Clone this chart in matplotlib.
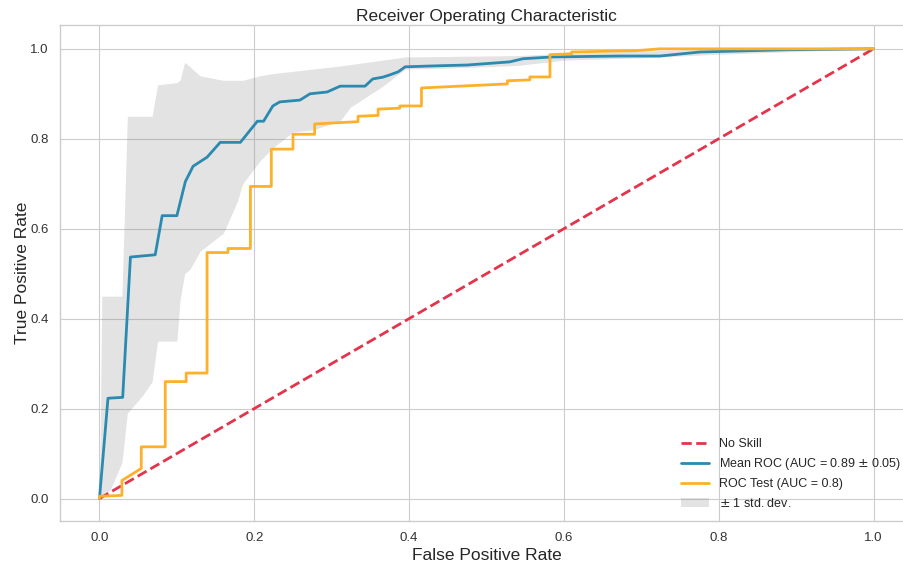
import matplotlib
matplotlib.use("Agg")
import matplotlib.pyplot as plt

# mean ROC across folds
mean_fpr = [0.000, 0.011, 0.030, 0.040, 0.072, 0.081, 0.100, 0.111, 0.121, 0.139,
            0.156, 0.182, 0.204, 0.212, 0.224, 0.233, 0.259, 0.272, 0.294, 0.311,
            0.343, 0.353, 0.366, 0.375, 0.386, 0.395, 0.431, 0.475, 0.530, 0.547,
            0.586, 0.672, 0.724, 0.776, 0.888, 1.000]
mean_tpr = [0.000, 0.223, 0.225, 0.537, 0.542, 0.629, 0.629, 0.705, 0.739, 0.759,
            0.792, 0.792, 0.839, 0.839, 0.873, 0.882, 0.886, 0.900, 0.904, 0.917,
            0.917, 0.933, 0.937, 0.942, 0.949, 0.960, 0.962, 0.964, 0.971, 0.978,
            0.982, 0.984, 0.984, 0.993, 0.998, 1.000]

# ROC on the held-out test set
test_fpr = [0.000, 0.000, 0.029, 0.029, 0.054, 0.054, 0.085, 0.085, 0.112, 0.112,
            0.139, 0.139, 0.166, 0.166, 0.195, 0.195, 0.222, 0.222, 0.250, 0.250,
            0.278, 0.278, 0.334, 0.334, 0.360, 0.360, 0.388, 0.388, 0.416, 0.416,
            0.527, 0.527, 0.556, 0.556, 0.582, 0.582, 0.610, 0.610, 0.694, 0.724,
            1.000]
test_tpr = [0.000, 0.005, 0.007, 0.040, 0.067, 0.115, 0.115, 0.260, 0.260, 0.279,
            0.279, 0.547, 0.547, 0.556, 0.556, 0.694, 0.694, 0.777, 0.777, 0.810,
            0.810, 0.833, 0.838, 0.850, 0.852, 0.866, 0.868, 0.873, 0.873, 0.913,
            0.922, 0.929, 0.931, 0.9375, 0.9375, 0.987, 0.989, 0.993, 0.996, 1.000,
            1.000]

# +/- 1 std band around the mean curve
band_fpr = [0.000, 0.003, 0.014, 0.029, 0.036, 0.056, 0.068, 0.075, 0.100, 0.104,
            0.110, 0.117, 0.130, 0.160, 0.178, 0.185, 0.207, 0.224, 0.250, 0.276,
            0.311, 0.324, 0.366, 0.395, 0.450, 0.540, 0.600, 0.700, 0.800, 1.000]
band_lo = [0.00, 0.00, 0.02, 0.08, 0.19, 0.23, 0.26, 0.35, 0.35, 0.44,
           0.50, 0.51, 0.55, 0.59, 0.66, 0.70, 0.75, 0.78, 0.815, 0.82,
           0.84, 0.87, 0.917, 0.955, 0.957, 0.963, 0.975, 0.980, 0.988, 1.00]
band_hi = [0.00, 0.45, 0.45, 0.45, 0.85, 0.85, 0.85, 0.92, 0.925, 0.93,
           0.97, 0.96, 0.94, 0.93, 0.93, 0.93, 0.94, 0.945, 0.95, 0.955,
           0.962, 0.965, 0.975, 0.982, 0.983, 0.985, 0.99, 0.995, 1.00, 1.00]

mean_auc, std_auc = 0.89, 0.05
test_auc = 0.8

plt.style.use("seaborn-v0_8-whitegrid")
plt.rcParams["font.family"] = ["Liberation Sans", "DejaVu Sans"]

fig = plt.figure(figsize=(9.04, 5.69), dpi=100)
ax = fig.add_axes([60 / 904, 48 / 569, 853 / 904, 496 / 569])

ax.plot([0, 1], [0, 1], linestyle="--", lw=2, color="#e3344c", label="No Skill")
ax.plot(mean_fpr, mean_tpr, color="#2a8ab0", lw=2,
        label="Mean ROC (AUC = %0.2f $\\pm$ %0.2f)" % (mean_auc, std_auc))
ax.plot(test_fpr, test_tpr, color="#fdb12a", lw=2,
        label="ROC Test (AUC = %0.1f)" % test_auc)
ax.fill_between(band_fpr, band_lo, band_hi, color="grey", alpha=0.22,
                lw=0, label=r"$\pm$ 1 std. dev.")

ax.set_xlim(-0.051, 1.051)
ax.set_ylim(-0.05, 1.053)
ax.set_xticks([0, 0.2, 0.4, 0.6, 0.8, 1.0])
ax.set_yticks([0, 0.2, 0.4, 0.6, 0.8, 1.0])
ax.tick_params(labelsize=9.5, colors="#333333", pad=8)
ax.set_xlabel("False Positive Rate", fontsize=12.5, labelpad=3)
ax.set_ylabel("True Positive Rate", fontsize=12.5, labelpad=0)
ax.set_title("Receiver Operating Characteristic", fontsize=12.5, pad=3)
ax.legend(loc="lower right", fontsize=9, frameon=False, handlelength=2.3)

fig.savefig("out.png", dpi=100)
